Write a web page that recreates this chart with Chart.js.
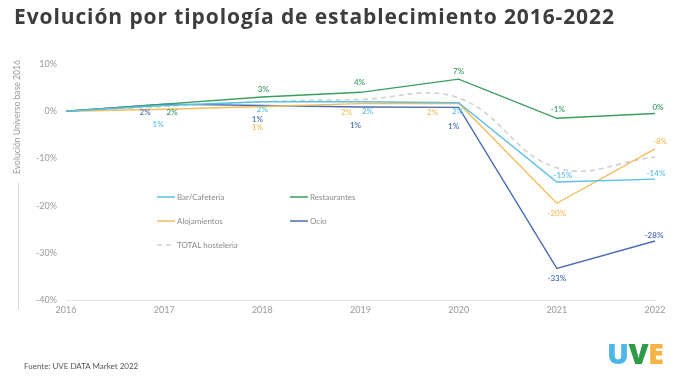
<!DOCTYPE html>
<html>
<head>
<meta charset="utf-8">
<script src="https://cdn.jsdelivr.net/npm/chart.js@4.4.1/dist/chart.umd.min.js"></script>
<style>
  html, body { margin: 0; padding: 0; background: #fff; }
  #wrap { position: relative; width: 677px; height: 381px; overflow: hidden; font-family: "Lato", sans-serif; }
  #title { position: absolute; left: 14px; top: 2px; font: 700 21px "Open Sans", sans-serif; letter-spacing: 0.9px; color: #3d3d3d; white-space: nowrap; }
  #ytitle { position: absolute; left: 17px; top: 117px; transform: translate(-50%, -50%) rotate(-90deg); font-size: 8.6px; color: #9a9a9a; white-space: nowrap; }
  #yline { position: absolute; left: 18px; top: 183px; width: 1px; height: 127px; background: #d8d8d8; }
  #source { position: absolute; left: 24px; top: 361px; font-size: 8px; color: #555; white-space: nowrap; }
  #logo { position: absolute; left: 607px; top: 333px; font: 800 29px "Open Sans", sans-serif; letter-spacing: -0.5px; }
  canvas { position: absolute; left: 0; top: 0; }
</style>
</head>
<body>
<div id="wrap">
  <canvas id="chart" width="677" height="381"></canvas>
  <div id="title">Evolución por tipología de establecimiento 2016-2022</div>
  <div id="ytitle">Evolución Universo base 2016</div>
  <div id="yline"></div>
  <div id="source">Fuente: UVE DATA Market 2022</div>
  <div id="logo"><span style="color:#4db8e8">U</span><span style="color:#2e9b47">V</span><span style="color:#f4b443">E</span></div>
</div>
<script>
// --- DATI ---
const years = ["2016", "2017", "2018", "2019", "2020", "2021", "2022"];

const barCafeteria = [0, 1.2, 2, 2, 1.8, -15, -14.4];
const restaurantes = [0, 1.5, 3, 4, 6.8, -1.5, -0.5];
const alojamientos = [0, 0.4, 1, 1.6, 1.7, -19.5, -8];
const ocio = [0, 1.5, 1.2, 0.9, 0.8, -33.3, -27.5];
const totalHosteleria = [0, 1, 2, 2.5, 2.8, -12, -9.7];

// etichette mostrate sui punti (null = nessuna)
const lblBar = [null, "1%", "2%", "2%", "2%", "-15%", "-14%"];
const lblRest = [null, "2%", "3%", "4%", "7%", "-1%", "0%"];
const lblAloj = [null, null, "1%", "2%", "2%", "-20%", "-8%"];
const lblOcio = [null, "2%", "1%", "1%", "1%", "-33%", "-28%"];

const yTicks = [10, 0, -10, -20, -30, -40];

// --- STILE ---
const COLORS = {
  bar: "#5bbfe6",
  rest: "#3a9e5f",
  aloj: "#f2be5c",
  ocio: "#4b6db3",
  total: "#cfcfd4",
};

// spostamento delle etichette rispetto al punto [dx, dy]
const OFFSETS = {
  bar: [null, [-6, 19], [0, 8], [7, 10], [-1, 9], [6, -7], [1, -6]],
  rest: [null, [8, 8], [1, -8], [-1, -10], [0, -8], [1, -9], [3, -6]],
  aloj: [null, null, [-5, 21], [-14, 9], [-26, 9], [0, 10], [5, -8]],
  ocio: [null, [-19, 8], [-5, 14], [-5, 18], [-5, 19], [0, 10], [-1, -6]],
};

// etichette dei punti
const pointLabels = {
  id: "pointLabels",
  afterDatasetsDraw(chart) {
    const ctx = chart.ctx;
    ctx.save();
    ctx.font = "600 8px Lato, sans-serif";
    ctx.textAlign = "center";
    ctx.textBaseline = "middle";
    chart.data.datasets.forEach((ds, i) => {
      if (!ds.pointText) return;
      const meta = chart.getDatasetMeta(i);
      ds.pointText.forEach((t, j) => {
        const off = ds.pointOffset[j];
        if (!t || !off) return;
        const p = meta.data[j];
        ctx.fillStyle = ds.borderColor;
        ctx.fillText(t, p.x + off[0], p.y + off[1]);
      });
    });
    ctx.restore();
  },
};

// legenda dentro l'area del grafico, 2 colonne
const innerLegend = {
  id: "innerLegend",
  afterDraw(chart) {
    const ctx = chart.ctx;
    const x0 = 157, y0 = 197, colW = 133, rowH = 24;
    ctx.save();
    ctx.font = "8px Lato, sans-serif";
    ctx.textBaseline = "middle";
    ctx.textAlign = "left";
    chart.data.datasets.forEach((ds, i) => {
      const x = x0 + (i % 2) * colW;
      const y = y0 + Math.floor(i / 2) * rowH;
      ctx.strokeStyle = ds.borderColor;
      ctx.lineWidth = 1.5;
      ctx.setLineDash(ds.borderDash || []);
      ctx.beginPath();
      ctx.moveTo(x, y);
      ctx.lineTo(x + 18, y);
      ctx.stroke();
      ctx.setLineDash([]);
      ctx.fillStyle = "#8a8a8a";
      ctx.fillText(ds.label, x + 20, y);
    });
    ctx.restore();
  },
};

function serie(label, data, color, text, offs) {
  return {
    label: label,
    data: data,
    borderColor: color,
    backgroundColor: color,
    borderWidth: 1.4,
    pointRadius: 0,
    tension: 0,
    pointText: text,
    pointOffset: offs,
  };
}

new Chart(document.getElementById("chart"), {
  type: "line",
  data: {
    labels: years,
    datasets: [
      serie("Bar/Cafeteria", barCafeteria, COLORS.bar, lblBar, OFFSETS.bar),
      serie("Restaurantes", restaurantes, COLORS.rest, lblRest, OFFSETS.rest),
      serie("Alojamientos", alojamientos, COLORS.aloj, lblAloj, OFFSETS.aloj),
      serie("Ocio", ocio, COLORS.ocio, lblOcio, OFFSETS.ocio),
      {
        label: "TOTAL hosteleria",
        data: totalHosteleria,
        borderColor: COLORS.total,
        borderWidth: 1.6,
        borderDash: [5, 4],
        pointRadius: 0,
        tension: 0.4,
      },
    ],
  },
  options: {
    responsive: false,
    animation: false,
    layout: { padding: { left: 0, right: 22, top: 64, bottom: 61 } },
    plugins: { legend: { display: false }, tooltip: { enabled: false } },
    scales: {
      x: {
        grid: { display: false, drawTicks: false },
        border: { color: "#e4e4e4" },
        ticks: { color: "#9a9a9a", font: { size: 9, family: "Lato" }, padding: 5, maxRotation: 0 },
        afterFit: (s) => { s.height = 20; },
      },
      y: {
        min: -40,
        max: 10,
        grid: { display: false, drawTicks: false },
        border: { display: false },
        afterBuildTicks: (s) => { s.ticks = yTicks.map((v) => ({ value: v })); },
        ticks: {
          color: "#9a9a9a",
          font: { size: 9, family: "Lato" },
          padding: 9,
          callback: (v) => v + "%",
        },
        afterFit: (s) => { s.width = 66; },
      },
    },
  },
  plugins: [pointLabels, innerLegend],
});
</script>
</body>
</html>
